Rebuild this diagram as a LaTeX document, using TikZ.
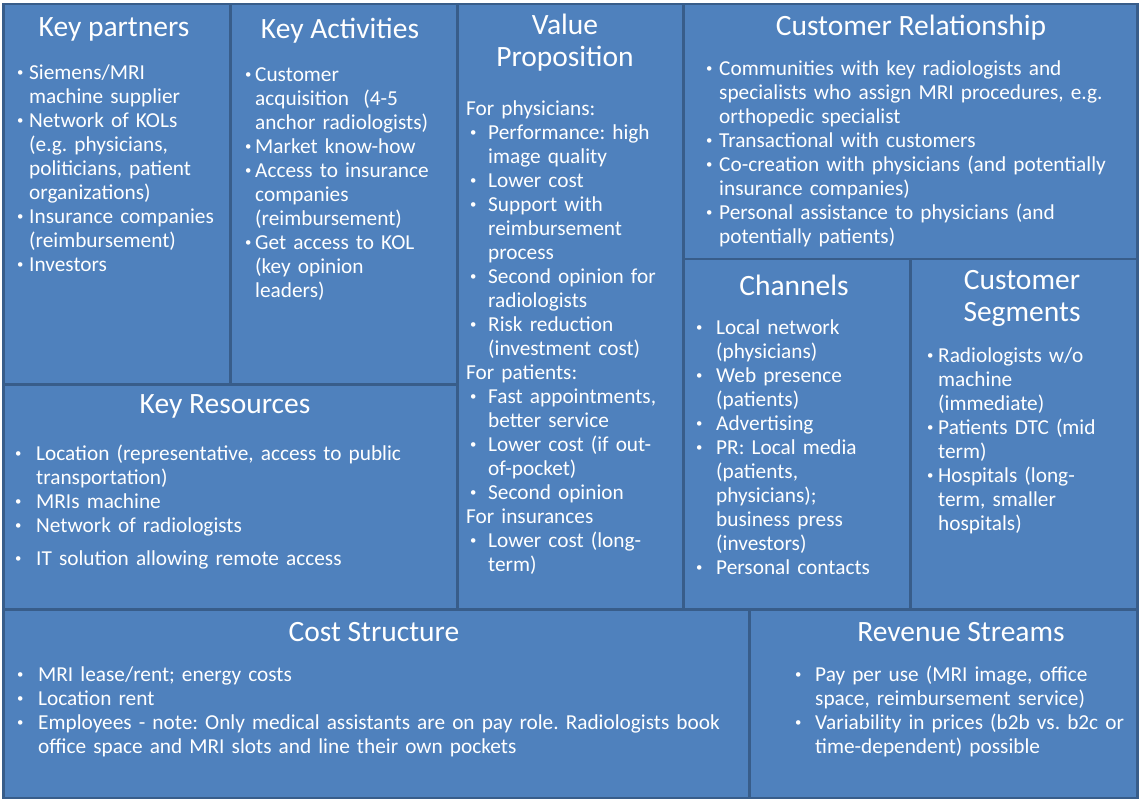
\documentclass[tikz,border=0pt]{standalone}
\usepackage{fontspec}
\usepackage{graphicx}
\usepackage{xcolor}
\setmainfont{Carlito}
\frenchspacing
\definecolor{cellblue}{RGB}{79,129,189}
\definecolor{lineblue}{RGB}{56,93,138}
\newcommand{\bul}{\raisebox{0.25ex}{\scalebox{0.6}{\textbullet}}}
\newcommand{\bitem}[2]{\par\hangindent=#1\hangafter=1\noindent\strut\makebox[#1][l]{\bul}#2\par}
\newcommand{\bhead}[1]{\par\noindent\strut\hspace*{-4pt}#1\par}

\begin{document}
\begin{tikzpicture}[x=1pt,y=-1pt,
    cell/.style={draw=lineblue, fill=cellblue, line width=2.5pt, anchor=north west, inner sep=0pt},
    title/.style={text=white, font=\fontsize{29.5}{32}\selectfont, align=center},
    body/.style={text=white, font=\fontsize{21.3}{24}\selectfont, anchor=north west, inner sep=0pt, align=left, text width=#1},
    body/.default=210pt]
    \useasboundingbox[fill=white] (0,0) rectangle (1145,799);

    % boxes
    \node[cell, minimum width=227pt, minimum height=380pt] (kp) at (2,3) {};
    \node[cell, minimum width=227pt, minimum height=380pt] (ka) at (229,3) {};
    \node[cell, minimum width=454pt, minimum height=225pt] (kr) at (2,383) {};
    \node[cell, minimum width=226pt, minimum height=605pt] (vp) at (456,3) {};
    \node[cell, minimum width=454pt, minimum height=255pt] (cr) at (682,3) {};
    \node[cell, minimum width=227pt, minimum height=350pt] (ch) at (682,258) {};
    \node[cell, minimum width=227pt, minimum height=350pt] (cs) at (909,258) {};
    \node[cell, minimum width=746pt, minimum height=189pt] (cost) at (2,608) {};
    \node[cell, minimum width=388pt, minimum height=189pt] (rev) at (748,608) {};

    % titles
    \node[title] (kpT) at (114,29) {Key partners};
    \node[title] (kaT) at (340,31) {Key Activities};
    \node[title] (vpT) at (565,43) {Value\\Proposition};
    \node[title] (crT) at (911,28) {Customer Relationship};
    \node[title] (chT) at (794,285) {Channels};
    \node[title] (csT) at (1022,298) {Customer\\Segments};
    \node[title] (krT) at (225,406) {Key Resources};
    \node[title] (costT) at (374,632) {Cost Structure};
    \node[title] (revT) at (961,632) {Revenue Streams};

    % contents
    \node[body] (kpB) at (17,55) {%
        \bitem{12pt}{Siemens/MRI\newline machine supplier}
        \bitem{12pt}{Network of KOLs\newline (e.g. physicians,\newline politicians, patient\newline organizations)}
        \bitem{12pt}{Insurance companies\newline (reimbursement)}
        \bitem{12pt}{Investors}};
    \node[body] (kaB) at (245,57) {%
        \bitem{10pt}{Customer\newline acquisition~ (4-5\newline anchor radiologists)}
        \bitem{10pt}{Market know-how}
        \bitem{10pt}{Access to insurance\newline companies\newline (reimbursement)}
        \bitem{10pt}{Get access to KOL\newline (key opinion\newline leaders)}};
    \node[body] (vpB) at (470,91) {%
        \bhead{For physicians:}
        \bitem{18pt}{Performance: high\newline image quality}
        \bitem{18pt}{Lower cost}
        \bitem{18pt}{Support with\newline reimbursement\newline process}
        \bitem{18pt}{Second opinion for\newline radiologists}
        \bitem{18pt}{Risk reduction\newline (investment cost)}
        \bhead{For patients:}
        \bitem{18pt}{Fast appointments,\newline better service}
        \bitem{18pt}{Lower cost (if out-\newline of-pocket)}
        \bitem{18pt}{Second opinion}
        \bhead{For insurances}
        \bitem{18pt}{Lower cost (long-\newline term)}};
    \node[body=425pt] (crB) at (706,51) {%
        \bitem{13pt}{Communities with key radiologists and\newline specialists who assign MRI procedures, e.g.\newline orthopedic specialist}
        \bitem{13pt}{Transactional with customers}
        \bitem{13pt}{Co-creation with physicians (and potentially\newline insurance companies)}
        \bitem{13pt}{Personal assistance to physicians (and\newline potentially patients)}};
    \node[body] (chB) at (696,310) {%
        \bitem{20pt}{Local network\newline (physicians)}
        \bitem{20pt}{Web presence\newline (patients)}
        \bitem{20pt}{Advertising}
        \bitem{20pt}{PR: Local media\newline (patients,\newline physicians);\newline business press\newline (investors)}
        \bitem{20pt}{Personal contacts}};
    \node[body] (csB) at (927,338) {%
        \bitem{11pt}{Radiologists w/o\newline machine\newline (immediate)}
        \bitem{11pt}{Patients DTC (mid\newline term)}
        \bitem{11pt}{Hospitals (long-\newline term, smaller\newline hospitals)}};
    \node[body=430pt] (krB) at (15,436) {%
        \bitem{21pt}{Location (representative, access to public\newline transportation)}
        \bitem{21pt}{MRIs machine}
        \bitem{21pt}{Network of radiologists}
        \vspace{9pt}
        \bitem{21pt}{IT solution allowing remote access}};
    \node[body=725pt] (costB) at (17,657) {%
        \bitem{21pt}{MRI lease/rent; energy costs}
        \bitem{21pt}{Location rent}
        \bitem{21pt}{Employees - note: Only medical assistants are on pay role. Radiologists book\newline office space and MRI slots and line their own pockets}};
    \node[body=335pt] (revB) at (795,657) {%
        \bitem{20pt}{Pay per use (MRI image, office\newline space, reimbursement service)}
        \bitem{20pt}{Variability in prices (b2b vs. b2c or\newline time-dependent) possible}};
\end{tikzpicture}
\end{document}
